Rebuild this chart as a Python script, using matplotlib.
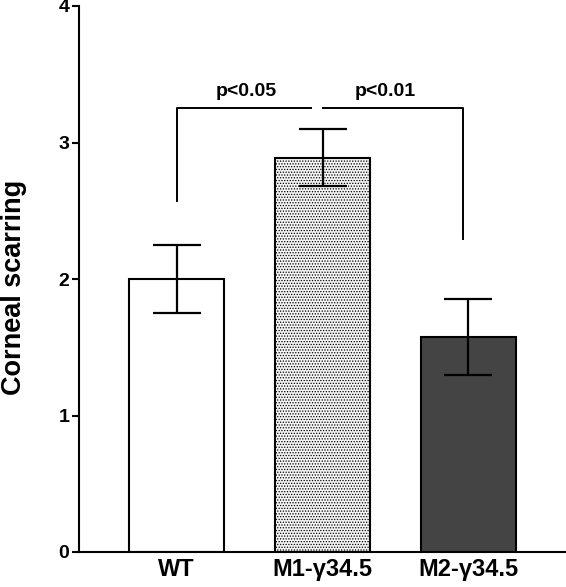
import matplotlib
matplotlib.use("Agg")
import matplotlib.pyplot as plt

categories = ["WT", "M1-γ34.5", "M2-γ34.5"]
means = [2.0, 2.89, 1.575]
errors = [0.25, 0.21, 0.275]
yticks = [0, 1, 2, 3, 4]
sig_labels = ["p<0.05", "p<0.01"]

plt.rcParams['font.family'] = ['Liberation Sans', 'DejaVu Sans']
plt.rcParams['hatch.color'] = '#8a8a8a'
plt.rcParams['hatch.linewidth'] = 0.6

fig = plt.figure(figsize=(5.66, 5.87), dpi=100)
ax = fig.add_axes([79/566, 35/587, 1 - 79/566, 546/587])

x = list(range(len(categories)))
faces = ['white', '#f4f4f4', '#444444']
hatches = [None, '......', None]
for xi, m, fc, h in zip(x, means, faces, hatches):
    ax.bar(xi, m, width=0.65, color=fc, edgecolor='black', linewidth=1.5,
           hatch=h, zorder=2)
ax.errorbar(x, means, yerr=errors, fmt='none', ecolor='black', elinewidth=1.6,
            capsize=17.5, capthick=1.6, zorder=3)

# significance brackets
lw = 1.4
ax.plot([0, 0, 0.92], [2.57, 3.25, 3.25], color='black', lw=lw, zorder=3)
ax.plot([1.003, 1.962, 1.962], [3.255, 3.255, 2.29], color='black', lw=lw, zorder=3)
ax.text(0.475, 3.34, sig_labels[0], ha='center', va='baseline', fontsize=14, fontweight='bold')
ax.text(1.43, 3.34, sig_labels[1], ha='center', va='baseline', fontsize=14, fontweight='bold')

ax.set_xlim(-0.668, 2.668)
ax.set_ylim(0, 4)
ax.set_yticks(yticks)
ax.set_yticklabels([str(t) for t in yticks], fontsize=14, fontweight='bold')
ax.set_xticks(x)
ax.set_xticklabels(categories, fontsize=17, fontweight='bold')
ax.tick_params(axis='x', length=0, pad=4)
ax.tick_params(axis='y', length=5, width=1.5, pad=2)
ax.set_ylabel("Corneal scarring", fontsize=19.5, fontweight='bold')
ax.yaxis.set_label_coords(-0.106, 0.484)
ax.spines['top'].set_visible(False)
ax.spines['right'].set_visible(False)
ax.spines['left'].set_linewidth(1.5)
ax.spines['bottom'].set_linewidth(1.5)

fig.savefig("out.png", dpi=100)
